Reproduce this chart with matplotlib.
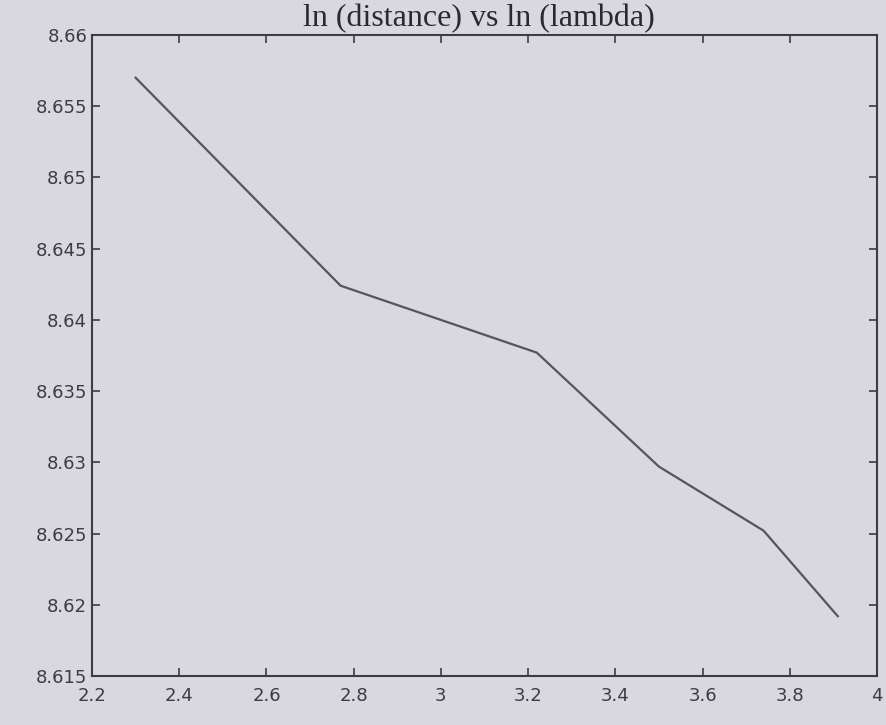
import matplotlib
matplotlib.use('Agg')
import matplotlib.pyplot as plt
from matplotlib.ticker import FuncFormatter

# ------------------------------------------------------------
# data
# ------------------------------------------------------------
ln_lambda = [2.30, 2.77, 3.22, 3.50, 3.74, 3.91]
ln_distance = [8.6570, 8.6424, 8.6377, 8.6297, 8.6252, 8.6192]

x_ticks = [2.2, 2.4, 2.6, 2.8, 3.0, 3.2, 3.4, 3.6, 3.8, 4.0]
y_ticks = [8.615, 8.62, 8.625, 8.63, 8.635, 8.64, 8.645, 8.65, 8.655, 8.66]

title = 'ln (distance) vs ln (lambda)'

paper = '#d9d7df'
ink = '#3c3c42'

W, H = 887, 725
fig = plt.figure(figsize=(W / 100, H / 100), dpi=100, facecolor=paper)
ax = fig.add_axes([92 / W, 1 - 676 / H, (877 - 92) / W, (676 - 35) / H])
ax.set_facecolor(paper)

ax.plot(ln_lambda, ln_distance, color='#55555c', linewidth=1.6)

ax.set_xlim(2.2, 4.0)
ax.set_ylim(8.615, 8.66)
ax.set_xticks(x_ticks)
ax.set_yticks(y_ticks)
ax.xaxis.set_major_formatter(FuncFormatter(lambda v, p: '%g' % round(v, 3)))
ax.yaxis.set_major_formatter(FuncFormatter(lambda v, p: '%g' % round(v, 3)))

ax.tick_params(direction='in', length=6, width=1.2, colors=ink,
               top=True, right=True, labelsize=13)
ax.tick_params(axis='x', pad=8)
for s in ax.spines.values():
    s.set_color(ink)
    s.set_linewidth(1.5)

# title sits in the narrow strip above the axes
fig.text(0.54, 1 - 26 / H, title, ha='center', va='baseline',
         fontsize=23, family='Liberation Serif', color='#2a2a2e')

fig.savefig('out.png', dpi=100, facecolor=paper)
